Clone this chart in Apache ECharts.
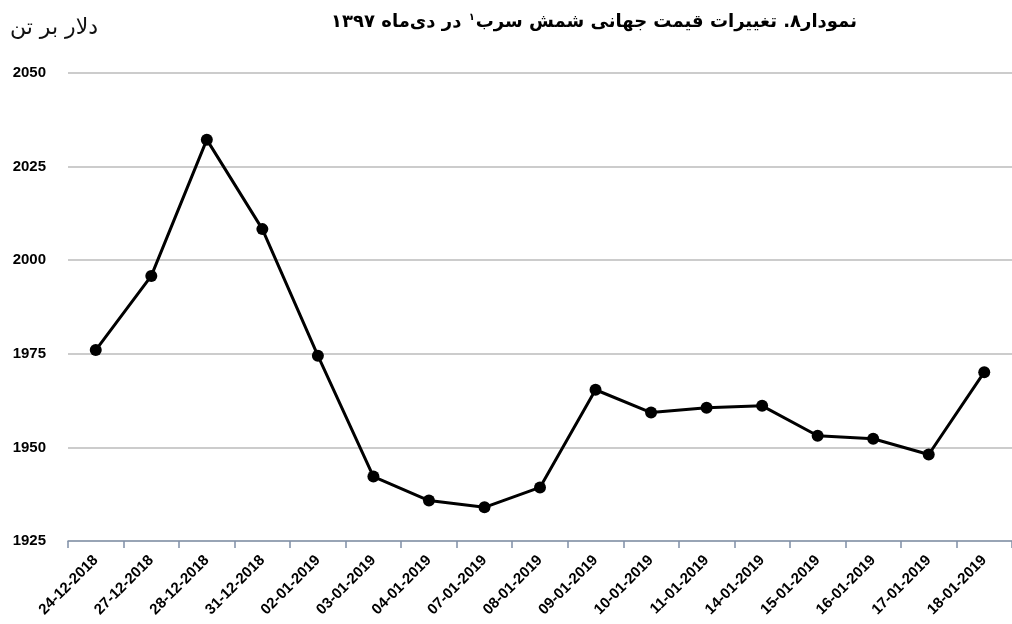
<!DOCTYPE html>
<html>
<head>
<meta charset="utf-8">
<script src="https://cdn.jsdelivr.net/npm/echarts@6/dist/echarts.min.js"></script>
<style>
  html, body { margin: 0; padding: 0; background: #fff; }
  #chart { width: 1012px; height: 624px; }
</style>
</head>
<body>
<div id="chart"></div>
<script>
// دادهٔ نمودار
const dates = ['24-12-2018', '27-12-2018', '28-12-2018', '31-12-2018', '02-01-2019', '03-01-2019',
  '04-01-2019', '07-01-2019', '08-01-2019', '09-01-2019', '10-01-2019', '11-01-2019',
  '14-01-2019', '15-01-2019', '16-01-2019', '17-01-2019', '18-01-2019']
const prices = [1976, 1995.8, 2032.2, 2008.3, 1974.5, 1942.2, 1935.8, 1934, 1939.3,
  1965.4, 1959.3, 1960.6, 1961.1, 1953.1, 1952.3, 1948.1, 1970.1]
const yTicks = [1925, 1950, 1975, 2000, 2025, 2050]

const chart = echarts.init(document.getElementById('chart'))

const option = {
  animation: false,
  title: {
    text: '{a|در دی‌ماه ۱۳۹۷ }{sup|۱}{b|نمودار۸. تغییرات قیمت جهانی شمش سرب}',
    left: 589,
    textAlign: 'center',
    top: 7,
    textStyle: {
      rich: {
        a: { fontFamily: 'DejaVu Sans', fontWeight: 'bold', fontSize: 18, color: '#000' },
        b: { fontFamily: 'DejaVu Sans', fontWeight: 'bold', fontSize: 18, color: '#000' },
        sup: { fontFamily: 'DejaVu Sans', fontWeight: 'bold', fontSize: 10, color: '#000', verticalAlign: 'top', padding: [0, 1, 10, 1] }
      }
    }
  },
  graphic: [{
    type: 'text',
    left: 10,
    top: 17,
    style: { text: 'دلار بر تن', font: '22px "DejaVu Sans"', fill: '#111' }
  }],
  grid: { left: 68, top: 73, width: 949, bottom: 83 },
  xAxis: {
    type: 'category',
    data: dates,
    boundaryGap: true,
    axisLine: { lineStyle: { color: '#8797ad', width: 1.5 } },
    axisTick: { show: true, length: 7, lineStyle: { color: '#7f8fa6', width: 1.5 } },
    axisLabel: {
      rotate: 45,
      interval: 0,
      margin: 17,
      fontFamily: 'Liberation Sans',
      fontWeight: 'bold',
      fontSize: 15,
      color: '#000'
    }
  },
  yAxis: {
    type: 'value',
    min: yTicks[0],
    max: yTicks[yTicks.length - 1],
    interval: 25,
    axisLine: { show: false },
    axisTick: { show: false },
    axisLabel: {
      margin: 22,
      fontFamily: 'Liberation Sans',
      fontWeight: 'bold',
      fontSize: 15,
      color: '#000',
      formatter: v => String(v)
    },
    splitLine: { lineStyle: { color: '#cccccc', width: 2 } }
  },
  series: [{
    type: 'line',
    data: prices,
    symbol: 'circle',
    symbolSize: 12,
    lineStyle: { color: '#000', width: 3 },
    itemStyle: { color: '#000' }
  }]
}

chart.setOption(option)
window.addEventListener('resize', () => chart.resize())
</script>
</body>
</html>
